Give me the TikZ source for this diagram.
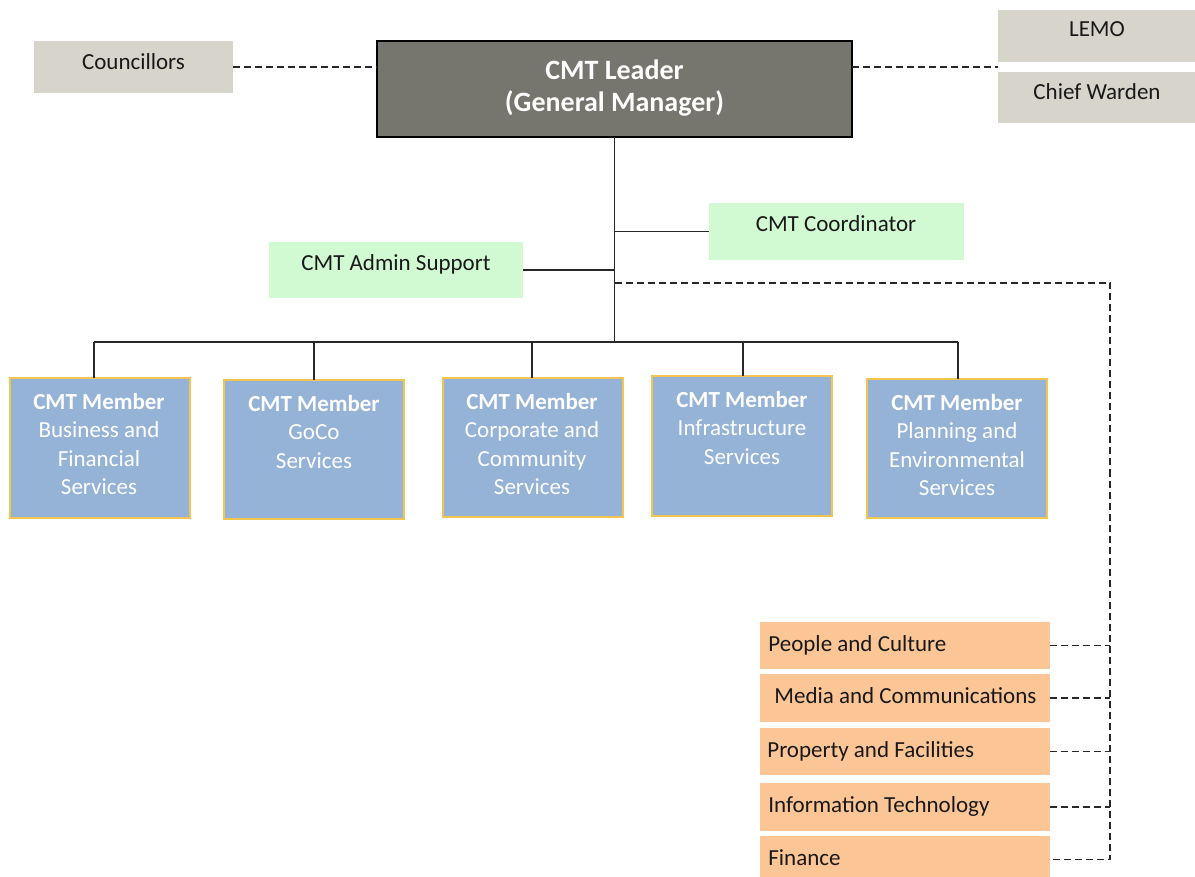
\documentclass[tikz,border=0pt]{standalone}
\usepackage{fontspec}
\setmainfont{Carlito}
\usetikzlibrary{calc}
\definecolor{greyfill}{RGB}{214,212,203}
\definecolor{leaderfill}{RGB}{118,117,110}
\definecolor{greenfill}{RGB}{210,250,210}
\definecolor{bluefill}{RGB}{149,179,215}
\definecolor{goldline}{RGB}{242,196,80}
\definecolor{orangefill}{RGB}{251,197,150}
\definecolor{linecol}{RGB}{40,40,40}
\newcommand\txtfont{\fontsize{11.5}{14.25}\selectfont}
\newcommand\leadfont{\fontsize{14}{16}\selectfont\bfseries}
\begin{document}
\begin{tikzpicture}[x=0.5pt,y=-0.5pt,
  basebox/.style={rectangle, inner sep=0pt, outer sep=0pt},
  greybox/.style={basebox, fill=greyfill},
  leaderbox/.style={basebox, fill=leaderfill, draw=black, line width=0.75pt},
  greenbox/.style={basebox, fill=greenfill},
  memberbox/.style={basebox, fill=bluefill, draw=goldline, line width=1pt, minimum width=90pt},
  orangebox/.style={basebox, fill=orangefill, minimum width=145pt},
  lbl/.style={inner sep=0pt, font=\txtfont, text=black!90, anchor=base},
  olbl/.style={inner sep=0pt, font=\txtfont, text=black!90, anchor=base west},
  mlbl/.style={inner sep=0pt, font=\txtfont, text=white, align=center, anchor=north},
  solidline/.style={draw=linecol, line width=0.9pt},
  dashline/.style={draw=linecol, line width=0.9pt, dash pattern=on 3.5pt off 2pt}
]
\useasboundingbox (0,0) rectangle (1195,877);

% top row
\node[greybox, minimum width=99.5pt, minimum height=26pt] (coun) at (133.5,67) {};
\node[leaderbox, minimum width=237.5pt, minimum height=48pt] (leader) at (614.5,89) {};
\node[greybox, minimum width=99pt, minimum height=26pt] (lemo) at (1097,36) {};
\node[greybox, minimum width=99pt, minimum height=25.5pt] (warden) at (1097,97.5) {};

\node[lbl] (counT) at (133.5,70) {Councillors};
\node[lbl] (lemoT) at (1097,37) {LEMO};
\node[lbl] (wardenT) at (1097,100) {Chief Warden};
\node[inner sep=0pt, font=\leadfont, text=white, align=center, anchor=north] (leaderT)
  at ($(leader.north)+(0,15.6)$) {\strut CMT Leader\\(General Manager)};

% support
\node[greenbox, minimum width=127.5pt, minimum height=28.5pt] (coord) at (836.5,231.5) {};
\node[greenbox, minimum width=127pt, minimum height=28pt] (admin) at (396,270) {};
\node[lbl] (coordT) at (836,232) {CMT Coordinator};
\node[lbl] (adminT) at (396,271) {CMT Admin Support};

% members
\node[memberbox, minimum height=70pt] (m1) at (100,448) {};
\node[memberbox, minimum height=69.5pt] (m2) at (314,449.5) {};
\node[memberbox, minimum height=69.5pt] (m3) at (533,447.5) {};
\node[memberbox, minimum height=70pt] (m4) at (742,446) {};
\node[memberbox, minimum height=69.5pt] (m5) at (957,448.5) {};

\node[mlbl] (m1T) at ($(m1.north)+(-1,11)$) {\strut\textbf{CMT Member}\\Business and\\Financial\\Services};
\node[mlbl] (m2T) at ($(m2.north)+(0,11)$) {\strut\textbf{CMT Member}\\GoCo\\Services};
\node[mlbl] (m3T) at ($(m3.north)+(-1,11)$) {\strut\textbf{CMT Member}\\Corporate and\\Community\\Services};
\node[mlbl] (m4T) at ($(m4.north)+(0,11)$) {\strut\textbf{CMT Member}\\Infrastructure\\Services};
\node[mlbl] (m5T) at ($(m5.north)+(0,11)$) {\strut\textbf{CMT Member}\\Planning and\\Environmental\\Services};

% orange boxes
\node[orangebox, minimum height=23.5pt] (o1) at (904.5,645.5) {};
\node[orangebox, minimum height=24pt] (o2) at (905,698) {};
\node[orangebox, minimum height=23.5pt] (o3) at (904.5,751.5) {};
\node[orangebox, minimum height=24pt] (o4) at (905,807) {};
\node[orangebox, minimum height=23.5pt] (o5) at (905,859.5) {};

\node[olbl] (o1T) at (768,651) {People and Culture};
\node[olbl] (o2T) at (774,703) {Media and Communications};
\node[olbl] (o3T) at (767,757) {Property and Facilities};
\node[olbl] (o4T) at (768,812) {Information Technology};
\node[olbl] (o5T) at (768,865) {Finance};

% coordinates
\coordinate (bus) at (614.5,342);
\coordinate (busL) at (94,342);
\coordinate (busR) at (958,342);
\coordinate (d1) at (314,342);
\coordinate (d2) at (532,342);
\coordinate (d3) at (743,342);
\coordinate (dtrunk) at (614.5,283);
\coordinate (dcorner) at (1110,283);
\coordinate (lmid) at ($(lemo.south west)!0.5!(warden.north west)$);

% solid connectors
\draw[solidline] (leader.south) -- (bus);
\draw[solidline] (busL) -- (busR);
\draw[solidline] (busL) -- (busL |- m1.north);
\draw[solidline] (d1) -- (d1 |- m2.north);
\draw[solidline] (d2) -- (d2 |- m3.north);
\draw[solidline] (d3) -- (d3 |- m4.north);
\draw[solidline] (busR) -- (busR |- m5.north);
\draw[solidline] (leader.south |- coord.west) -- (coord.west);
\draw[solidline] (admin.east) -- (leader.south |- admin.east);

% dashed connectors
\draw[dashline] (coun.east) -- (leader.west |- coun.east);
\draw[dashline] (leader.east |- lmid) -- (lmid);
\draw[dashline] (dtrunk) -- (dcorner) -- (dcorner |- o5.east) -- (o5.east);
\draw[dashline] (o1.east) -- (o1.east -| dcorner);
\draw[dashline] (o2.east) -- (o2.east -| dcorner);
\draw[dashline] (o3.east) -- (o3.east -| dcorner);
\draw[dashline] (o4.east) -- (o4.east -| dcorner);
\end{tikzpicture}
\end{document}
